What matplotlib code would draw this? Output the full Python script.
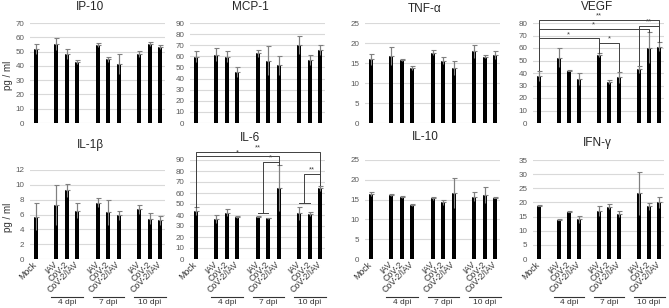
import matplotlib
matplotlib.use("Agg")
import matplotlib.pyplot as plt
import matplotlib.transforms as mtrans
import numpy as np

plt.rcParams['font.family'] = ['Liberation Sans', 'DejaVu Sans']

# ---------------- data ----------------
categories = ['Mock', 'IAV', 'CoV-2', 'CoV-2/IAV', 'IAV', 'CoV-2', 'CoV-2/IAV',
              'IAV', 'CoV-2', 'CoV-2/IAV']
positions = [0, 2, 3, 4, 6, 7, 8, 10, 11, 12]
groups = ['4 dpi', '7 dpi', '10 dpi']
group_starts = [2, 6, 10]

ip10 = [51.7, 55.4, 48.4, 42.8, 54.5, 44.6, 41.1, 48.4, 55.4, 53.1]
ip10_err = [3.7, 4.0, 3.3, 1.4, 1.4, 1.9, 7.1, 1.9, 1.4, 1.6]
mcp1 = [59.8, 61.6, 59.8, 46.2, 62.8, 56.2, 52.0, 70.0, 56.8, 65.8]
mcp1_err = [5.1, 5.8, 5.1, 4.5, 3.0, 12.7, 8.4, 7.9, 4.5, 4.6]
tnfa = [15.9, 16.8, 15.8, 13.8, 17.6, 15.6, 13.7, 17.9, 16.6, 16.9]
tnfa_err = [1.3, 2.2, 0.2, 0.5, 0.7, 0.8, 1.8, 1.6, 0.3, 1.0]
vegf = [37.6, 52.3, 41.9, 35.2, 54.5, 33.0, 36.5, 43.0, 60.4, 61.2]
vegf_err = [4.3, 7.6, 0.3, 4.5, 1.3, 1.4, 4.3, 2.9, 12.1, 3.5]
il1b = [5.7, 7.3, 9.25, 6.5, 7.6, 6.3, 5.9, 6.7, 5.45, 5.2]
il1b_err = [1.8, 2.7, 0.9, 1.0, 0.6, 1.7, 0.6, 0.6, 0.7, 0.6]
il6 = [43.3, 36.7, 42.1, 38.2, 38.5, 37.0, 64.5, 41.5, 41.2, 64.2]
il6_err = [3.7, 3.6, 3.4, 1.2, 0.4, 0.4, 20.7, 6.1, 1.8, 2.5]
il10 = [16.4, 16.1, 15.6, 13.7, 15.3, 14.3, 16.6, 15.7, 16.2, 15.5]
il10_err = [0.4, 0.3, 0.2, 0.2, 0.3, 0.7, 3.8, 1.1, 2.1, 0.2]
ifng = [18.9, 13.9, 16.7, 14.1, 16.9, 18.5, 15.9, 23.2, 18.6, 20.0]
ifng_err = [0.2, 0.2, 0.1, 1.2, 1.7, 0.9, 1.1, 7.7, 1.2, 1.8]

titles = ['IP-10', 'MCP-1', 'TNF-α', 'VEGF', 'IL-1β', 'IL-6', 'IL-10', 'IFN-γ']
ymax = [70, 90, 25, 80, 12, 90, 25, 35]
ystep = [10, 10, 5, 10, 2, 10, 5, 5]

# significance brackets: (x_left, x_right, y_bar, y_left_end, y_right_end, label)
vegf_sig = [(0, 12, 82.7, 42.5, 65.2, '**'),
            (0, 11, 75.2, 42.5, 73.0, '*'),
            (0, 6, 67.8, 42.5, 56.3, '*'),
            (6, 8, 64.4, 56.3, 41.3, '*'),
            (10, 12, 77.9, 46.4, 65.2, '**')]
il6_sig = [(0, 12, 97.4, 47.5, 67.2, '**'),
           (0, 8, 93.3, 47.5, 85.7, '*'),
           (6.5, 8, 88.4, 41.8, 85.7, '*'),
           (10.5, 12, 77.3, 50.6, 67.2, '**')]
il6_hbars = [(6, 7, 41.8), (10, 11, 50.6)]

# ---------------- layout ----------------
W, H = 669, 308
fig = plt.figure(figsize=(W / 100, H / 100), dpi=100)

cols = [(30, 165), (190, 325), (365, 500), (533, 664)]
rows_top = [(23, 123), (23, 123), (23, 123), (23, 123),
            (170, 259), (160, 259), (160, 259), (160, 259)]
title_pos = [(90, 7.5), (250, 7.5), (425, 8.5), (597, 6.5),
             (90, 145), (250, 138), (425, 137), (597, 143)]

values = [ip10, mcp1, tnfa, vegf, il1b, il6, il10, ifng]
errors = [ip10_err, mcp1_err, tnfa_err, vegf_err, il1b_err, il6_err, il10_err, ifng_err]

grid_c = '#d9d9d9'
txt_c = '#595959'
err_c = '#808080'

for i in range(8):
    l, r = cols[i % 4]
    t, b = rows_top[i]
    ax = fig.add_axes([l / W, 1 - b / H, (r - l) / W, (b - t) / H])
    v = np.array(values[i])
    e = np.array(errors[i])
    ax.bar(positions, v, width=0.4, color='black', zorder=2)
    ax.errorbar(positions, v, yerr=e, fmt='none', ecolor=err_c, elinewidth=0.8,
                capsize=0, zorder=3)
    ax.errorbar(positions, v, yerr=[np.zeros_like(e), e], fmt='none', ecolor=err_c,
                elinewidth=0.8, capsize=1.8, capthick=0.8, zorder=3)
    ax.set_xlim(-0.55, 12.48)
    ax.set_ylim(0, ymax[i])
    ax.set_yticks(np.arange(0, ymax[i] + 0.01, ystep[i]))
    ax.yaxis.grid(True, color=grid_c, linewidth=0.8, zorder=0)
    ax.set_axisbelow(True)
    for s in ax.spines.values():
        s.set_visible(False)
    ax.tick_params(axis='y', length=0, pad=4, labelsize=5.8, labelcolor=txt_c)
    ax.tick_params(axis='x', length=0)
    if i < 4:
        ax.set_xticks([])
    else:
        ax.set_xticks(positions)
        ax.set_xticklabels(categories, rotation=45, ha='right', va='center',
                           rotation_mode='anchor', fontsize=6.3, color='#333333')
        ax.tick_params(axis='x', pad=3)
        tr = mtrans.blended_transform_factory(ax.transData, fig.transFigure)
        for g, gs in zip(groups, group_starts):
            ax.plot([gs - 0.5, gs + 2.55], [1 - 297 / H, 1 - 297 / H], color='#333333',
                    lw=0.8, transform=tr, clip_on=False)
            ax.text(gs + 1, 1 - 303 / H, g, transform=tr, ha='center', va='center',
                    fontsize=6, color='#333333')
    fig.text(title_pos[i][0] / W, 1 - title_pos[i][1] / H, titles[i], ha='center',
             va='center', fontsize=8.5, color='#262626')

    sig = vegf_sig if i == 3 else (il6_sig if i == 5 else [])
    for (x1, x2, yb, yl, yr, lab) in sig:
        ax.plot([x1, x1, x2, x2], [yl, yb, yb, yr], color='#404040', lw=0.7,
                clip_on=False, zorder=4)
        ax.text((x1 + x2) / 2, yb + ymax[i] * 0.002, lab, ha='center', va='bottom',
                fontsize=5.5, color='#404040', clip_on=False)
    if i == 5:
        for (x1, x2, yh) in il6_hbars:
            ax.plot([x1, x2], [yh, yh], color='#404040', lw=0.7, clip_on=False, zorder=4)

fig.text(8 / W, 1 - 75 / H, 'pg / ml', rotation=90, ha='center', va='center',
         fontsize=7, color='#333333')
fig.text(8 / W, 1 - 217 / H, 'pg / ml', rotation=90, ha='center', va='center',
         fontsize=7, color='#333333')

fig.savefig('out.png', dpi=100)
